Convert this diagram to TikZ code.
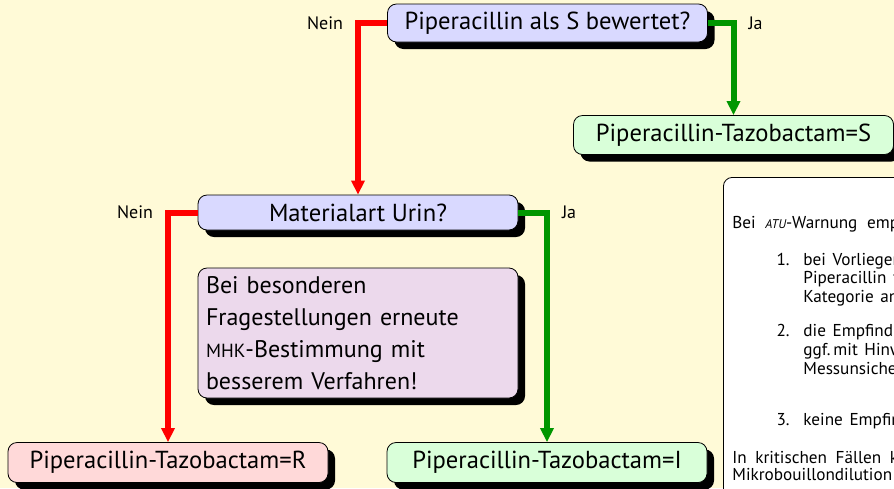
\documentclass[tikz,border=0pt]{standalone}
\usepackage{fontspec}
\setmainfont{PT Sans}
\usetikzlibrary{shadows,arrows.meta}

\definecolor{hgrund}{RGB}{255,250,215}
\definecolor{jagruen}{RGB}{0,150,0}

\tikzset{
  kasten/.style={draw=black, thin, rounded corners=4.5pt, inner sep=0pt,
    minimum width=160pt, font=\fontsize{12.3}{14}\selectfont,
    drop shadow={shadow xshift=3.5pt, shadow yshift=-3.5pt, fill=black, opacity=1}},
  frage/.style={kasten, fill=blue!15, minimum height=19pt},
  ergebnis/.style={kasten, fill=green!15, minimum height=19.5pt},
  resistent/.style={kasten, fill=red!15, minimum height=20pt},
  hinweis/.style={kasten, fill=violet!15, minimum height=65pt, text width=152pt,
    align=left, font=\fontsize{12}{16}\selectfont},
  zweig/.style={font=\fontsize{9}{11}\selectfont, inner sep=0pt},
  nein/.style={draw=red, line width=3pt, -{Triangle[width=6.5pt,length=7pt]}},
  ja/.style={draw=jagruen, line width=3pt, -{Triangle[width=6.5pt,length=7pt]}},
  infotext/.style={font=\fontsize{8.6}{9.5}\selectfont, inner sep=0pt}
}

% (von, nach)
\newcommand{\neinpfad}[2]{
    \draw[nein] (#1.west) -| node[zweig, pos=0.5, left=6pt] {Nein} (#2.north);
}
\newcommand{\japfad}[2]{
    \draw[ja] (#1.east) -| node[zweig, pos=0.5, right=6pt] {Ja} (#2.north);
}
\newcommand{\zeile}[4]{
    \node[infotext, anchor=base #4] (#1) at #2 {#3};
}

\begin{document}
\begin{tikzpicture}[x=0.5pt, y=-0.5pt]

  \fill[hgrund] (0,0) rectangle (894,488);
  \useasboundingbox (0,0) rectangle (894,488);
  \clip (0,0) rectangle (894,488);

  \node[frage] (piper) at (547.5,23) {Piperacillin als S bewertet?};
  \node[ergebnis] (ergS) at (733.5,135) {Piperacillin-Tazobactam=S};
  \node[frage, minimum height=17.5pt] (urin) at (358,212.5) {Materialart Urin?};
  \node[hinweis] (mhk) at (358,333)
    {Bei besonderen\\Fragestellungen erneute\\{\fontsize{9.5}{16}\selectfont MHK}-Bestimmung mit\\besserem Verfahren!};
  \node[resistent] (ergR) at (168,462.5) {Piperacillin-Tazobactam=R};
  \node[ergebnis, minimum height=20pt] (ergI) at (547,462.5) {Piperacillin-Tazobactam=I};

  \neinpfad{piper}{urin}
  \japfad{piper}{ergS}
  \neinpfad{urin}{ergR}
  \japfad{urin}{ergI}

  % Kasten rechts
  \node[draw=black, thin, fill=white, rounded corners=4.5pt, anchor=north west,
    minimum width=200pt, minimum height=200pt,
    drop shadow={shadow xshift=3.5pt, shadow yshift=-3.5pt, fill=black, opacity=1}]
    (atu) at (723,177) {};

  \zeile{t0}{(732,228)}{Bei \hspace{2.5pt}{\fontsize{6.3}{9.5}\selectfont\itshape ATU}-Warnung\hspace{2.5pt} empfehlen}{west}
  \zeile{n1}{(790,265)}{1.}{east}
  \zeile{t1}{(803,265)}{bei \hspace{1pt}Vorliegen}{west}
  \zeile{t2}{(803,283)}{Piperacillin \hspace{1pt}für}{west}
  \zeile{t3}{(803,302)}{Kategorie \hspace{1pt}an}{west}
  \zeile{n2}{(790,336)}{2.}{east}
  \zeile{t4}{(803,336)}{die \hspace{1pt}Empfindlichkeit}{west}
  \zeile{t5}{(803,355)}{ggf.\,mit \hspace{1pt}Hinweis}{west}
  \zeile{t6}{(803,374)}{Messunsicherheit}{west}
  \zeile{n3}{(790,425)}{3.}{east}
  \zeile{t7}{(803,425)}{keine \hspace{1pt}Empfindlichkeit}{west}
  \zeile{t8}{(732,463)}{In \hspace{2pt}kritischen \hspace{2pt}Fällen \hspace{2pt}kann}{west}
  \zeile{t9}{(732,480)}{Mikrobouillondilution}{west}

\end{tikzpicture}
\end{document}
